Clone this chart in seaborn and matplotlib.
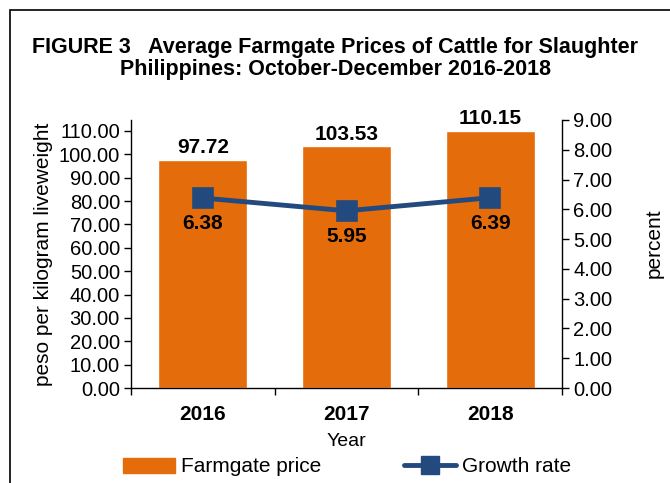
import matplotlib
matplotlib.use("Agg")
import matplotlib.pyplot as plt
import seaborn as sns
import pandas as pd
from matplotlib.patches import Rectangle, Patch
from matplotlib.lines import Line2D

years = ["2016", "2017", "2018"]
price = [97.72, 103.53, 110.15]
growth = [6.38, 5.95, 6.39]
price_ticks = [0, 10, 20, 30, 40, 50, 60, 70, 80, 90, 100, 110]
growth_ticks = [0, 1, 2, 3, 4, 5, 6, 7, 8, 9]

orange = "#E46C0A"
navy = "#234A7E"

sns.set_theme(style="white")
plt.rcParams["font.family"] = ["Liberation Sans", "DejaVu Sans"]
plt.rcParams["text.color"] = "black"

df = pd.DataFrame({"Year": years, "Price": price, "Growth": growth})

fig = plt.figure(figsize=(6.7, 4.83), dpi=100)
ax = fig.add_axes([131 / 670, 1 - 388 / 483, (562 - 131) / 670, (388 - 120) / 483])

sns.barplot(data=df, x="Year", y="Price", color=orange, width=0.62,
            saturation=1, ax=ax, errorbar=None)
ax.set_ylim(0, 114.7)
ax.set_xlim(-0.5, 2.5)
ax.set_yticks(price_ticks)
ax.set_yticklabels([f"{v:.2f}" for v in price_ticks], fontsize=14.5, color="black")
ax.set_ylabel("peso per kilogram liveweight", fontsize=15, color="black", labelpad=4)
ax.set_xlabel("Year", fontsize=14, color="black", labelpad=7)
ax.set_xticks(range(len(years)))
ax.set_xticklabels(years, fontsize=15, fontweight="bold", color="black")
ax.set_xticks([-0.5, 0.5, 1.5, 2.5], minor=True)
ax.tick_params(axis="x", which="major", length=0, pad=12)
ax.tick_params(axis="x", which="minor", length=5, width=1, direction="out", color="black", bottom=True)
ax.tick_params(axis="y", length=5, width=1, direction="out", color="black", left=True, pad=3)
for s in ["left", "bottom"]:
    ax.spines[s].set_color("black")
    ax.spines[s].set_linewidth(1)
ax.spines["top"].set_visible(False)
ax.spines["right"].set_visible(False)

for i, v in enumerate(price):
    ax.text(i, v + 1.0, f"{v:.2f}", ha="center", va="bottom", fontsize=15,
            fontweight="bold", color="black")

ax2 = ax.twinx()
sns.pointplot(data=df, x="Year", y="Growth", ax=ax2, color=navy, markers="s",
              markersize=13, linewidth=3.5, errorbar=None)
ax2.set_ylim(0, 9)
ax2.set_xlim(-0.5, 2.5)
ax2.set_yticks(growth_ticks)
ax2.set_yticklabels([f"{v:.2f}" for v in growth_ticks], fontsize=14.5, color="black")
ax2.set_ylabel("percent", fontsize=15, color="black")
ax2.yaxis.set_label_coords(1.192, 0.54)
ax2.set_xlabel("")
ax2.tick_params(axis="y", length=5, width=1, direction="out", color="black", right=True, pad=3)
ax2.spines["right"].set_color("black")
ax2.spines["right"].set_linewidth(1)
for s in ["top", "left", "bottom"]:
    ax2.spines[s].set_visible(False)
ax2.grid(False)
ax.grid(False)

for i, v in enumerate(growth):
    ax2.text(i, v - 0.55, f"{v:.2f}", ha="center", va="top", fontsize=15,
             fontweight="bold", color="black")

fig.text(0.5, 1 - 47 / 483, "FIGURE 3   Average Farmgate Prices of Cattle for Slaughter",
         ha="center", va="center", fontsize=15.5, fontweight="bold", color="black")
fig.text(0.5, 1 - 70 / 483, "Philippines: October-December 2016-2018",
         ha="center", va="center", fontsize=15.5, fontweight="bold", color="black")

handles = [Patch(facecolor=orange, edgecolor=orange),
           Line2D([0], [0], color=navy, lw=3.5, marker="s", markersize=13)]
fig.legend(handles, ["Farmgate price", "Growth rate"], loc="center",
           bbox_to_anchor=(347 / 670, 1 - 467 / 483), ncol=2, frameon=False,
           fontsize=15, handlelength=2.5, handleheight=0.7, columnspacing=4.0,
           handletextpad=0.25, borderpad=0)

fig.add_artist(Rectangle((10 / 670, -0.1), 1.2, 1.1 - 10 / 483,
                         transform=fig.transFigure, fill=False,
                         edgecolor="black", linewidth=1.2))

fig.savefig("out.png", dpi=100)
